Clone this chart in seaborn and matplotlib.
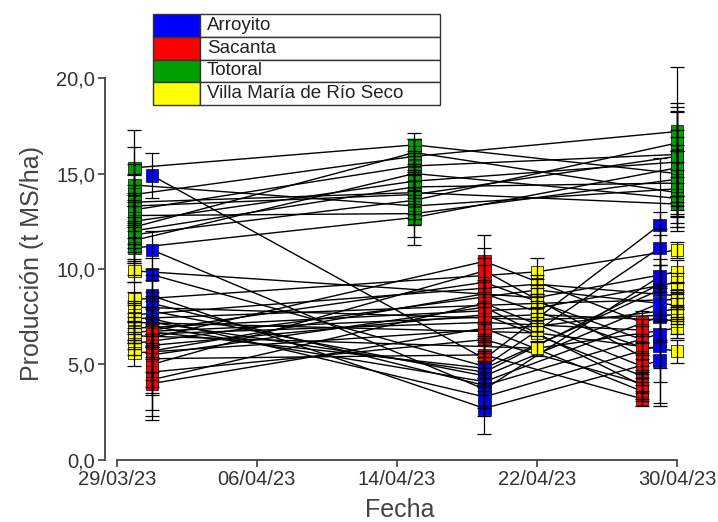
import numpy as np
import pandas as pd
import seaborn as sns
import matplotlib.pyplot as plt
import matplotlib.dates as mdates
from matplotlib.patches import Rectangle

# --- Datos ---
LOCALIDADES = ["Arroyito", "Sacanta", "Totoral", "Villa María de Río Seco"]
COLORES = {"Arroyito": "#0000ff", "Sacanta": "#ff0000",
           "Totoral": "#00a000", "Villa María de Río Seco": "#ffff00"}

# fechas de muestreo por localidad
fechas_ar = ["2023-03-31", "2023-04-19", "2023-04-29"]
fechas_sa = ["2023-03-31", "2023-04-19", "2023-04-28"]
fechas_to = ["2023-03-30", "2023-04-15", "2023-04-30"]
fechas_vm = ["2023-03-30", "2023-04-22", "2023-04-30"]

# Arroyito: produccion por parcela en cada fecha y desvio
ar_1 = [14.9, 11.0, 9.7, 8.6, 7.8, 7.4, 7.0, 6.7, 8.2, 7.2]
ar_2 = [5.3, 3.7, 4.9, 2.7, 4.4, 3.3, 4.1, 4.8, 3.9, 4.6]
ar_3 = [12.3, 9.6, 11.1, 5.2, 8.2, 6.0, 7.5, 8.9, 6.6, 9.2]
ar_e1 = [1.2, 1.0, 0.9, 1.1, 0.8, 0.9, 1.0, 0.8, 1.2, 1.3]
ar_e2 = [1.0, 0.9, 1.1, 1.35, 0.8, 1.0, 0.7, 0.9, 1.2, 0.8]
ar_e3 = [3.5, 2.2, 1.9, 2.4, 2.0, 3.0, 2.7, 1.6, 2.5, 2.9]

# Sacanta
sa_1 = [6.8, 6.4, 6.0, 5.7, 5.3, 5.0, 4.6, 4.2, 4.0, 6.6, 5.5]
sa_2 = [9.3, 10.4, 7.6, 8.7, 5.5, 9.9, 6.3, 8.2, 6.9, 7.2, 8.0]
sa_3 = [6.3, 7.2, 4.4, 5.9, 3.2, 5.4, 4.0, 4.9, 3.6, 6.8, 3.9]
sa_e1 = [1.2, 1.0, 1.4, 1.5, 1.8, 1.6, 2.0, 1.9, 1.9, 1.3, 1.7]
sa_e2 = [1.3, 1.4, 1.2, 1.5, 1.0, 1.2, 0.9, 1.1, 1.3, 1.0, 1.4]
sa_e3 = [0.7, 0.6, 0.5, 0.6, 0.4, 0.7, 0.5, 0.6, 0.5, 0.6, 0.7]

# Totoral
to_1 = [15.3, 14.4, 13.9, 13.5, 13.1, 12.8, 12.5, 12.2, 11.8, 11.5, 11.1, 12.0, 13.3]
to_2 = [16.5, 13.3, 15.9, 14.0, 15.4, 12.9, 14.6, 16.1, 13.6, 15.0, 12.7, 14.3, 13.9]
to_3 = [15.0, 14.2, 17.2, 13.4, 16.0, 14.7, 15.6, 14.0, 16.6, 13.7, 15.3, 14.5, 15.9]
to_e1 = [2.0, 2.0, 1.6, 1.5, 1.8, 1.2, 1.4, 1.3, 1.5, 1.2, 1.4, 1.6, 1.1]
to_e2 = [0.6, 1.0, 0.9, 1.1, 0.8, 1.2, 0.9, 0.7, 1.0, 1.1, 1.45, 0.9, 1.0]
to_e3 = [1.9, 2.0, 3.4, 1.4, 2.2, 1.8, 2.9, 1.6, 2.1, 1.5, 2.0, 1.7, 2.4]

# Villa María de Río Seco
vm_1 = [9.9, 8.4, 8.0, 7.6, 7.2, 6.9, 6.5, 6.1, 5.6, 7.4, 6.7]
vm_2 = [8.5, 9.85, 7.35, 9.2, 6.65, 7.95, 5.85, 8.9, 7.0, 8.2, 7.6]
vm_3 = [9.85, 11.0, 7.6, 8.6, 5.7, 9.3, 6.9, 8.1, 7.9, 8.4, 7.3]
vm_e1 = [0.6, 0.9, 0.8, 0.7, 0.9, 0.8, 0.7, 0.6, 0.7, 0.8, 0.6]
vm_e2 = [0.5, 0.7, 0.6, 0.5, 0.5, 0.6, 0.4, 0.6, 0.5, 0.5, 0.6]
vm_e3 = [0.6, 0.4, 0.5, 0.7, 0.6, 0.5, 0.5, 0.6, 0.6, 0.5, 0.7]

TICKS_X = ["2023-03-29", "2023-04-06", "2023-04-14", "2023-04-22", "2023-04-30"]
TICKS_Y = [0, 5, 10, 15, 20]


def armar_tabla():
    """Arma la tabla larga localidad / parcela / fecha / produccion / desvio"""
    grupos = [
        ("Arroyito", fechas_ar, [ar_1, ar_2, ar_3], [ar_e1, ar_e2, ar_e3]),
        ("Sacanta", fechas_sa, [sa_1, sa_2, sa_3], [sa_e1, sa_e2, sa_e3]),
        ("Totoral", fechas_to, [to_1, to_2, to_3], [to_e1, to_e2, to_e3]),
        ("Villa María de Río Seco", fechas_vm, [vm_1, vm_2, vm_3], [vm_e1, vm_e2, vm_e3]),
    ]
    filas = []
    for loc, fechas, valores, errores in grupos:
        for i in range(len(valores[0])):
            for f, vals, errs in zip(fechas, valores, errores):
                filas.append({"Localidad": loc, "Parcela": f"{loc}-{i}",
                              "Fecha": pd.Timestamp(f), "Produccion": vals[i], "DE": errs[i]})
    return pd.DataFrame(filas)


df = armar_tabla()

sns.set_theme(style="ticks")
plt.rcParams["font.family"] = ["Liberation Sans", "DejaVu Sans"]

fig = plt.figure(figsize=(7.18, 5.22), dpi=100)
ax = fig.add_axes([0.146, 0.119, 0.815, 0.768])

# lineas por parcela
sns.lineplot(data=df, x="Fecha", y="Produccion", units="Parcela", estimator=None,
             color="black", lw=1.0, ax=ax, legend=False, zorder=1)
# puntos por localidad
sns.scatterplot(data=df, x="Fecha", y="Produccion", hue="Localidad", hue_order=LOCALIDADES,
                palette=COLORES, marker="s", s=80, edgecolor="#222222", linewidth=0.6,
                ax=ax, legend=False, zorder=2, clip_on=False)
# barras de error
ax.errorbar(df["Fecha"], df["Produccion"], yerr=df["DE"], fmt="none", ecolor="black",
            elinewidth=0.9, capsize=5, capthick=0.9, zorder=3, clip_on=False)

x0 = pd.Timestamp(TICKS_X[0])
x1 = pd.Timestamp(TICKS_X[-1])
ax.set_xlim(x0 - pd.Timedelta(hours=16.5), x1 + pd.Timedelta(hours=17.8))
ax.set_ylim(0, 21)

ax.set_xticks(pd.to_datetime(TICKS_X))
ax.xaxis.set_major_formatter(mdates.DateFormatter("%d/%m/%y"))
ax.set_yticks(TICKS_Y)
ax.set_yticklabels([f"{v:.1f}".replace(".", ",") for v in TICKS_Y])

sns.despine(ax=ax)
ax.spines["left"].set_bounds(0, 20)
ax.spines["bottom"].set_bounds(mdates.date2num(x0), mdates.date2num(x1))
for s in ["left", "bottom"]:
    ax.spines[s].set_color("#404040")
    ax.spines[s].set_linewidth(1.3)
ax.tick_params(length=5, width=1.2, color="#404040", labelsize=14.5,
               labelcolor="#333333", pad=2)

ax.set_xlabel("Fecha", fontsize=18, color="#444444")
ax.set_ylabel("Producción (t MS/ha)", fontsize=18, color="#444444")
ax.xaxis.set_label_coords(0.504, -0.095)
ax.yaxis.set_label_coords(-0.104, 0.49)

# leyenda en forma de tabla
W, H = 718, 522
xa, xb, xc = 153, 200, 440
y_top, alto = 14, 22.75
for i, loc in enumerate(LOCALIDADES):
    yb = y_top + alto * (i + 1)
    fig.add_artist(Rectangle((xa / W, 1 - yb / H), (xb - xa) / W, alto / H,
                             transform=fig.transFigure, facecolor=COLORES[loc],
                             edgecolor="#333333", lw=1))
    fig.add_artist(Rectangle((xb / W, 1 - yb / H), (xc - xb) / W, alto / H,
                             transform=fig.transFigure, facecolor="white",
                             edgecolor="#333333", lw=1))
    fig.text((xb + 7) / W, 1 - (yb - alto / 2) / H, loc, fontsize=13.5,
             color="#222222", va="center", ha="left")

fig.savefig("out.png", dpi=100)
